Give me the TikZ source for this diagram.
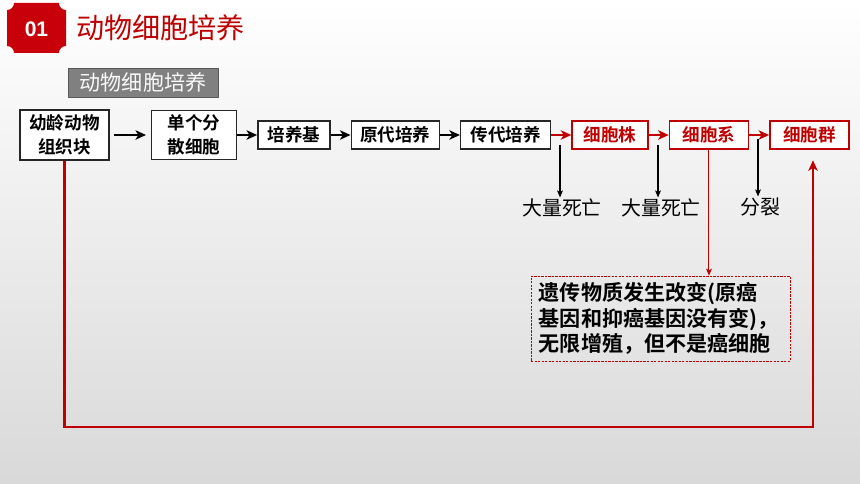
\documentclass[tikz,border=0pt]{standalone}
\usepackage{fontspec}
\setmainfont{Noto Sans CJK SC}[BoldFont={Noto Sans CJK SC Bold}]
\newfontfamily\arialf{Liberation Sans}
\usetikzlibrary{shapes,arrows,arrows.meta,positioning}
\definecolor{darkred}{HTML}{C00000}
\definecolor{badgered}{HTML}{C8000A}
\tikzstyle{block} = [draw=black!85, rectangle, fill=white, line width=1.2pt, text centered, font=\bfseries\fontsize{15}{20}\selectfont, minimum height=0.84cm, inner xsep=2pt]
\tikzstyle{redblock} = [block, draw=darkred, text=darkred]
\tikzstyle{line} = [draw, line width=1.7pt, -{Stealth[length=9pt, width=8pt, inset=2.5pt]}]
\tikzstyle{redline} = [line, draw=darkred]
\tikzstyle{drop} = [draw, line width=0.9pt, -{Stealth[length=6pt, width=5pt, inset=1.5pt]}]
\tikzstyle{fate} = [font=\fontsize{17}{20}\selectfont, inner sep=1pt]

\begin{document}
\begin{tikzpicture}[x=0.03cm, y=-0.03cm, node distance=0.6cm]
        \useasboundingbox (0,0) rectangle (860,484);
        \fill[top color=white, bottom color=gray!30] (0,0) rectangle (860,484);
        \fill[badgered] (14,3) -- (59,3) .. controls (59,7) and (62,10) .. (66,10) -- (66,46) .. controls (62,46) and (59,49) .. (59,53) -- (14,53) .. controls (14,49) and (11,46) .. (7,46) -- (7,10) .. controls (11,10) and (14,7) .. (14,3) -- cycle;
        \node[text=white, font=\arialf\bfseries\fontsize{18}{18}\selectfont] (badge) at (36.5,29) {01};
        \node[text=darkred, font=\fontsize{24}{28}\selectfont, anchor=west] (title) at (72,28) {动物细胞培养};
        \node[draw=gray!70!black, fill=gray, text=white!95!gray, font=\fontsize{18}{22}\selectfont, minimum width=4.5cm, minimum height=0.87cm, inner sep=0pt] (banner) at (143,82.5) {动物细胞培养};
        \node[block, align=center, minimum width=2.67cm, minimum height=1.5cm] (tissue) at (64.5,135) {幼龄动物\\组织块};
        \node[block, align=center, right=1.23cm of tissue, minimum width=2.55cm, minimum height=1.47cm] (single) {单个分\\散细胞};
        \node[block, right=of single, minimum width=2.16cm] (medium) {培养基};
        \node[block, right=of medium, minimum width=2.64cm] (primary) {原代培养};
        \node[block, right=of primary, minimum width=2.7cm] (passage) {传代培养};
        \node[redblock, right=of passage, minimum width=2.28cm] (strain) {细胞株};
        \node[redblock, right=of strain, minimum width=2.37cm] (cline) {细胞系};
        \node[redblock, right=of cline, minimum width=2.37cm] (group) {细胞群};
        \node[fate] (death1) at (562,208) {大量死亡};
        \node[fate] (death2) at (661,208) {大量死亡};
        \node[fate] (split) at (760,207) {分裂};
        \node[draw=darkred, dash pattern=on 2pt off 1pt, line width=0.6pt, align=left, font=\bfseries\fontsize{18}{21.5}\selectfont, minimum width=7.77cm, minimum height=2.55cm, text width=7.3cm] (note) at (660.5,318.5) {遗传物质发生改变(原癌\\基因和抑癌基因没有变)，\\无限增殖，但不是癌细胞};
        \coordinate (d1) at (560,145);
        \coordinate (d2) at (658,145);
        \coordinate (d3) at (758,139);
        \coordinate (loopend) at (813,427);
        \path[line, shorten <=4pt, shorten >=4pt] (tissue) -- (single);
        \path[line] (single) -- (medium);
        \path[line] (medium) -- (primary);
        \path[line] (primary) -- (passage);
        \path[redline] (passage) -- (strain);
        \path[redline] (strain) -- (cline);
        \path[redline] (cline) -- (group);
        \path[drop] (d1) -- (d1 |- death1.north);
        \path[drop] (d2) -- (d2 |- death2.north);
        \path[drop] (d3) -- (d3 |- split.north);
        \path[drop, draw=darkred, fill=darkred] (cline.south) -- (cline.south |- note.north);
        \path[redline, line width=2pt, shorten >=9pt] (tissue.south) |- (loopend) -- (loopend |- group.south);
    \end{tikzpicture}
\end{document}
